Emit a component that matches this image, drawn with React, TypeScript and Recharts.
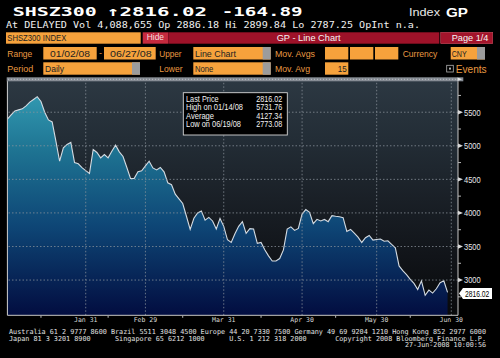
import React from "react";
import { AreaChart, Area, XAxis, YAxis, ReferenceLine } from "recharts";

// SHSZ300 daily closes, 01/02/08 .. 06/27/08 (one per trading day)
const closes = [
  5396, 5460, 5520, 5535, 5550, 5595, 5650, 5690, 5731.76, 5660,
  5500, 5385, 5355, 5070, 4770, 4970, 5020, 5050, 4750, 4731,
  4675, 4630, 4588, 4945, 4900, 4820, 4870, 4820, 4920, 5009,
  4910, 4840, 4680, 4513, 4515, 4612, 4627, 4700, 4770, 4670,
  4640, 4677, 4612, 4448, 4420, 4280, 4210, 4140, 3950, 3754,
  3920, 4000, 4030, 3893, 3933, 3880, 3760, 3918, 3800, 3600,
  3561, 3690, 3800, 3870, 3695, 3765, 3760, 3546, 3560, 3450,
  3360, 3283, 3283, 3320, 3450, 3760, 3793, 3740, 3769, 3982,
  4050, 4010, 3840, 3905, 3880, 3903, 3870, 3960, 3950, 3942,
  3930, 3725, 3754, 3700, 3640, 3560, 3630, 3665, 3595, 3605,
  3612, 3578, 3585, 3530, 3480, 3210, 3140, 3080, 3010, 2950,
  2860, 2988, 2773.08, 2851, 2806, 2870, 2960, 2988, 2816.02,
];

// trading-day index of month ends / mid months on the x axis
const monthEndIdx = [21, 37, 58, 79, 99, 119];
const monthEndLabels = ["Jan 31", "Feb 29", "Mar 31", "Apr 30", "May 30", "Jun 30"];
const midMonthIdx = [9, 27, 47, 68, 88, 108];

const priceTicks = [3000, 3500, 4000, 4500, 5000, 5500];
const minorPriceTicks = [2750, 3250, 3750, 4250, 4750, 5250, 5750];

const legendLabels = ["Last Price", "High on 01/14/08", "Average", "Low on 06/19/08"];
const legendValues = ["2816.02", "5731.76", "4127.34", "2773.08"];
const lastPrice = 2816.02;

const data = closes.map((v, i) => ({ i, v }));

const MONO = "'DejaVu Sans Mono', 'Liberation Mono', monospace";
const SANS = "'Liberation Sans', Arial, sans-serif";
const NARROW = "'Liberation Sans Narrow', 'Liberation Sans', Arial, sans-serif";
const ORANGE = "#f6a23c";
const LABEL = "#e99a42";

// rough widths of the condensed labels in the reference
const legendLabelW = [32.7, 57, 28, 55];

type TP = {
  x: number;
  y: number;
  w?: number;
  size: number;
  fill: string;
  family: string;
  bold?: boolean;
  anchor?: "start" | "middle" | "end";
  children: string;
};

function T({ x, y, w, size, fill, family, bold, anchor = "start", children }: TP) {
  return (
    <text
      x={x}
      y={y}
      fontSize={size}
      fill={fill}
      fontFamily={family}
      fontWeight={bold ? 700 : 400}
      textAnchor={anchor}
      textLength={w}
      lengthAdjust={w ? "spacingAndGlyphs" : undefined}
      style={{ whiteSpace: "pre" }}
    >
      {children}
    </text>
  );
}

function Box({ x, y, w, h, end }: { x: number; y: number; w: number; h: number; end?: boolean }) {
  return (
    <g>
      <rect x={x} y={y} width={w} height={h} fill={ORANGE} />
      {end && <rect x={x + w - 8} y={y} width={8} height={h} fill="#9c9c9c" />}
    </g>
  );
}

function PriceTick(props: any) {
  const { x, y, payload } = props;
  const v = payload.value;
  if (v % 500 !== 0) {
    return <line x1={x} x2={x + 3} y1={y} y2={y} stroke="#b8b8b8" />;
  }
  return (
    <g>
      <path d={`M${x} ${y - 2.2} L${x + 5} ${y} L${x} ${y + 2.2} Z`} fill="#d8d8d8" />
      <T x={x + 6} y={y + 3.3} w={16.7} size={9.2} fill="#e8e8e8" family={NARROW}>
        {String(v)}
      </T>
    </g>
  );
}

function DateTick(props: any) {
  const { x, y, payload } = props;
  const k = monthEndIdx.indexOf(payload.value);
  if (k < 0) {
    return <line x1={x} x2={x} y1={y + 0.5} y2={y + 2.5} stroke="#b8b8b8" />;
  }
  return (
    <text x={x} y={y + 6.4} textAnchor="middle" fontFamily={MONO} fontSize={6.5} fill="#d8d8d8">
      {monthEndLabels[k]}
    </text>
  );
}

function LastLabel(props: any) {
  const vb = props.viewBox;
  const x = vb.x + vb.width + 1;
  const y = vb.y + 1;
  return (
    <g>
      <path
        d={`M${x} ${y} L${x + 4} ${y - 5.5} L${x + 33} ${y - 5.5} L${x + 33} ${y + 5.5} L${x + 4} ${y + 5.5} Z`}
        fill="#ffffff"
      />
      <T x={x + 6} y={y + 3.4} w={24.3} size={9.5} fill="#000" family={NARROW}>
        {String(lastPrice)}
      </T>
    </g>
  );
}

function Overlay() {
  return (
    <svg width={500} height={358} style={{ position: "absolute", left: 0, top: 0 }}>
      {/* title lines */}
      <T x={12.7} y={16} w={84} size={13} fill="#fff" family={MONO} bold>SHSZ300</T>
      <T x={107} y={16} w={100} size={13} fill="#fff" family={MONO} bold>↑2816.02</T>
      <T x={221.7} y={16} w={81} size={13} fill="#fff" family={MONO} bold>-164.89</T>
      <T x={409} y={16} w={31} size={11.5} fill="#e8e8e8" family={SANS}>Index</T>
      <T x={446} y={16.5} w={22} size={13} fill="#fff" family={SANS} bold>GP</T>
      <T x={6} y={27.5} w={414} size={9.5} fill="#f0f0f0" family={MONO}>
        At DELAYED Vol 4,088,655 Op 2886.18 Hi 2899.84 Lo 2787.25 OpInt n.a.
      </T>

      {/* row 1 */}
      <rect x={6} y={32.3} width={134.7} height={11.4} fill={ORANGE} />
      <T x={7.3} y={40.8} w={59} size={9} fill="#222" family={SANS}>SHSZ300 INDEX</T>
      <rect x={142.7} y={32.3} width={25.6} height={11.4} fill="#c62a3e" />
      <T x={146.7} y={39.6} w={17.3} size={8.5} fill="#f4dede" family={SANS}>Hide</T>
      <rect x={168.3} y={32.3} width={271} height={11.4} fill="#9e1229" />
      <T x={276.7} y={40.8} w={64} size={9} fill="#f4f4f4" family={SANS}>GP - Line Chart</T>
      <rect x={440.7} y={32.3} width={52} height={11.4} fill="#a3142b" stroke="#c84a5a" strokeWidth={0.6} />
      <T x={451.7} y={40.8} w={36.7} size={9} fill="#f4f4f4" family={SANS}>Page 1/4</T>

      {/* row 2 */}
      <T x={7.3} y={56.7} w={25} size={9} fill={LABEL} family={SANS}>Range</T>
      <Box x={43.3} y={47} w={53.4} h={12.5} />
      <T x={50} y={56.7} w={40} size={9} fill="#222" family={SANS}>01/02/08</T>
      <T x={99} y={56.2} size={9} fill={LABEL} family={SANS}>-</T>
      <Box x={104} y={47} w={51.7} h={12.5} />
      <T x={110} y={56.7} w={41.7} size={9} fill="#222" family={SANS}>06/27/08</T>
      <T x={159.3} y={56.7} w={22.3} size={9} fill={LABEL} family={SANS}>Upper</T>
      <Box x={193.3} y={47} w={77.4} h={12.5} end />
      <T x={195} y={56.7} w={41} size={9} fill="#222" family={SANS}>Line Chart</T>
      <T x={275} y={56.7} w={40} size={9} fill={LABEL} family={SANS}>Mov. Avgs</T>
      <Box x={325} y={47} w={23.3} h={12.5} />
      <Box x={350} y={47} w={23.3} h={12.5} />
      <Box x={375} y={47} w={23.3} h={12.5} />
      <T x={402.7} y={56.7} w={34.7} size={9} fill={LABEL} family={SANS}>Currency</T>
      <Box x={450.7} y={47} w={34.3} h={12.5} end />
      <T x={451.7} y={56.7} w={15} size={9} fill="#222" family={SANS}>CNY</T>

      {/* row 3 */}
      <T x={7.3} y={71.8} w={26} size={9} fill={LABEL} family={SANS}>Period</T>
      <Box x={43.3} y={62.3} w={96.7} h={12.4} end />
      <T x={45} y={71.8} w={19} size={9} fill="#222" family={SANS}>Daily</T>
      <T x={159.3} y={71.8} w={23.3} size={9} fill={LABEL} family={SANS}>Lower</T>
      <Box x={193.3} y={62.3} w={77.4} h={12.4} end />
      <T x={195} y={71.8} w={18.3} size={9} fill="#222" family={SANS}>None</T>
      <T x={275} y={71.8} w={35} size={9} fill={LABEL} family={SANS}>Mov. Avg</T>
      <Box x={325} y={62.3} w={23.3} h={12.4} />
      <T x={337.7} y={71.8} w={9} size={9} fill="#222" family={SANS}>15</T>
      <rect x={446.7} y={65.3} width={6.6} height={6.7} fill="none" stroke="#b0b0b0" strokeWidth={0.8} />
      <rect x={449} y={67.6} width={2} height={2} fill="#b0b0b0" />
      <T x={455.7} y={72.5} w={31} size={11} fill={LABEL} family={SANS}>Events</T>

      {/* scroll strip */}
      <rect x={6.7} y={77.3} width={456.6} height={4} fill="#878d95" />
      <line x1={8} x2={456} y1={79.3} y2={79.3} stroke="#c9cdd2" strokeDasharray="1 2" strokeWidth={0.8} />
      <path d="M457.5 77.6 L462 79.3 L457.5 81 Z" fill="#e6e6e6" />

      {/* legend box */}
      <rect x={183.3} y={92.7} width={104} height={42.3} fill="#000" stroke="#d6d6d6" strokeWidth={0.9} />
      {legendLabels.map((s, k) => (
        <T key={s} x={186} y={101.6 + k * 8.6} w={legendLabelW[k]} size={9} fill="#f2f2f2" family={NARROW}>{s}</T>
      ))}
      {legendValues.map((s, k) => (
        <T key={s} x={256.3} y={101.6 + k * 8.6} w={26} size={9} fill="#f2f2f2" family={NARROW}>{s}</T>
      ))}

      {/* footer */}
      <T x={9} y={334} w={477} size={6.8} fill="#e0e0e0" family={MONO}>
        Australia 61 2 9777 8600 Brazil 5511 3048 4500 Europe 44 20 7330 7500 Germany 49 69 9204 1210 Hong Kong 852 2977 6000
      </T>
      <T x={9} y={340.6} w={477} size={6.8} fill="#e0e0e0" family={MONO}>
        {"Japan 81 3 3201 8900      Singapore 65 6212 1000      U.S. 1 212 318 2000       Copyright 2008 Bloomberg Finance L.P."}
      </T>
      <T x={405} y={347.3} w={81} size={6.8} fill="#e0e0e0" family={MONO}>27-Jun-2008 10:00:56</T>
    </svg>
  );
}

export default function App() {
  return (
    <div
      style={{
        position: "fixed",
        left: 0,
        top: 0,
        width: 500,
        height: 358,
        background: "#000",
        overflow: "hidden",
      }}
    >
      <div
        style={{
          position: "absolute",
          left: 7,
          top: 81,
          width: 451,
          height: 234.3,
          background: "linear-gradient(180deg, #2c3842 0%, #232d36 25%, #1a2027 50%, #111419 75%, #08090b 100%)",
        }}
      />
      <div style={{ position: "absolute", left: 0, top: 0 }}>
        <AreaChart width={500} height={358} data={data} margin={{ top: 81, right: 2, bottom: 22.7, left: 7.4 }}>
          <defs>
            <linearGradient id="areaFill" gradientUnits="userSpaceOnUse" x1={0} y1={81} x2={0} y2={315}>
              <stop offset="0%" stopColor="#36a2b8" />
              <stop offset="30%" stopColor="#1e7392" />
              <stop offset="62%" stopColor="#0e4676" />
              <stop offset="100%" stopColor="#020d40" />
            </linearGradient>
          </defs>
          <XAxis
            type="number"
            dataKey="i"
            domain={[0, 120.8]}
            allowDataOverflow
            ticks={[...midMonthIdx, ...monthEndIdx]}
            interval={0}
            tick={<DateTick />}
            tickLine={false}
            tickSize={0}
            tickMargin={0}
            height={20}
            axisLine={{ stroke: "#c8c8c8" }}
          />
          <YAxis
            orientation="right"
            type="number"
            domain={[2475, 5965]}
            allowDataOverflow
            ticks={[...minorPriceTicks, ...priceTicks]}
            interval={0}
            tick={<PriceTick />}
            tickLine={false}
            tickSize={0}
            tickMargin={0}
            width={40}
            axisLine={{ stroke: "#c8c8c8" }}
          />
          <Area
            type="linear"
            dataKey="v"
            stroke="#d4dbe2"
            strokeWidth={1.1}
            fill="url(#areaFill)"
            fillOpacity={1}
            isAnimationActive={false}
          />
          {priceTicks.map((p) => (
            <ReferenceLine key={"h" + p} y={p} stroke="#8c949c" strokeOpacity={0.75} strokeDasharray="1.5 2" />
          ))}
          {monthEndIdx.map((m) => (
            <ReferenceLine key={"v" + m} x={m} stroke="#8c949c" strokeOpacity={0.75} strokeDasharray="1.5 2" />
          ))}
          <ReferenceLine x={0} stroke="#d0d0d0" />
          <ReferenceLine y={lastPrice} stroke="none" label={(p: any) => <LastLabel {...p} />} />
        </AreaChart>
      </div>
      <Overlay />
    </div>
  );
}
